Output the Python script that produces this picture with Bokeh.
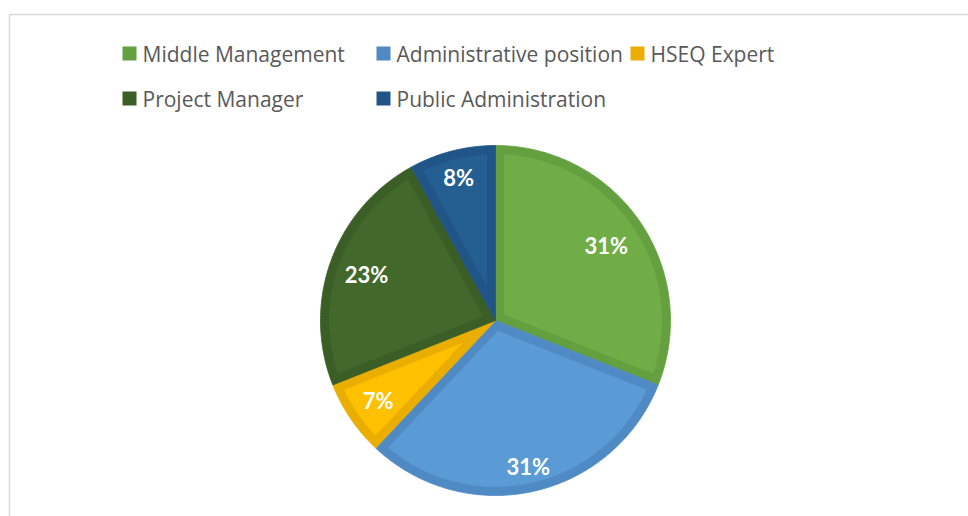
import math
from bokeh.plotting import figure
from bokeh.models import Range1d
from bokeh.core.properties import value
from bokeh.embed import file_html
from bokeh.resources import INLINE

# ---- data ----
categories = ["Middle Management", "Administrative position", "HSEQ Expert",
              "Project Manager", "Public Administration"]
shares = [31, 31, 7, 23, 8]
labels = ["31%", "31%", "7%", "23%", "8%"]

# ---- styles ----
fill_colors = ["#70AD47", "#5B9BD5", "#FFC000", "#43682B", "#255E91"]
edge_colors = ["#64A03F", "#4F8AC4", "#E9AE00", "#3B5D26", "#215487"]

# ---- layout (pixels) ----
CX, CY, R, W = 495, 320, 175, 9
LABEL_R = [134, 150, 142, 137, 148]
LEG_COLS = [122, 376, 630]
LEG_ROWS = [53, 98]

p = figure(width=968, height=516, x_range=Range1d(0, 968), y_range=Range1d(516, 0),
           output_backend="svg", toolbar_location=None, min_border=0,
           x_axis_location=None, y_axis_location=None)
p.grid.visible = False
p.outline_line_color = None
p.background_fill_color = "white"
p.border_fill_color = "white"

# chart border (partially visible)
p.line([9, 990], [14, 14], line_color="#D9D9D9", line_width=1.5)
p.line([9, 9], [14, 540], line_color="#D9D9D9", line_width=1.5)


def pt(r, th):
    return CX + r * math.sin(th), CY - r * math.cos(th)


total = float(sum(shares))
outer_xs, outer_ys, inner_xs, inner_ys = [], [], [], []
lab_x, lab_y = [], []
start = 0.0
for i, s in enumerate(shares):
    d = 2 * math.pi * s / total
    t0, t1 = start, start + d
    n = max(4, int(math.degrees(d)))
    xs, ys = [CX], [CY]
    for k in range(n + 1):
        x, y = pt(R, t0 + d * k / n)
        xs.append(x); ys.append(y)
    outer_xs.append(xs); outer_ys.append(ys)
    # inner region (offset by W)
    apex = W / math.sin(d / 2)
    ax, ay = pt(apex, (t0 + t1) / 2)
    delta = math.asin(W / (R - W))
    a0, a1 = t0 + delta, t1 - delta
    xs2, ys2 = [ax], [ay]
    for k in range(n + 1):
        x, y = pt(R - W, a0 + (a1 - a0) * k / n)
        xs2.append(x); ys2.append(y)
    inner_xs.append(xs2); inner_ys.append(ys2)
    lx, ly = pt(LABEL_R[i], (t0 + t1) / 2)
    lab_x.append(lx); lab_y.append(ly)
    start = t1

p.patches(outer_xs, outer_ys, fill_color=edge_colors, line_color=edge_colors, line_width=0.8)
p.patches(inner_xs, inner_ys, fill_color=fill_colors, line_color=fill_colors, line_width=0.8)

p.text(x=lab_x, y=lab_y, text=labels, text_color="white", text_font=value("Lato"),
       text_font_style="bold", text_font_size="22px", text_align="center",
       text_baseline="middle")

# legend
sq_x, sq_y, tx, ty = [], [], [], []
for i, c in enumerate(categories):
    col = LEG_COLS[i % 3]
    row = LEG_ROWS[i // 3]
    sq_x.append(col + 7); sq_y.append(row)
    tx.append(col + 20); ty.append(row)
p.rect(x=sq_x, y=sq_y, width=14, height=14, fill_color=edge_colors, line_color=None)
p.text(x=tx, y=ty, text=categories, text_color="#595959", text_font=value("Open Sans"),
       text_font_size="21px", text_align="left", text_baseline="middle")

open("out.html", "w").write(file_html(p, INLINE))
